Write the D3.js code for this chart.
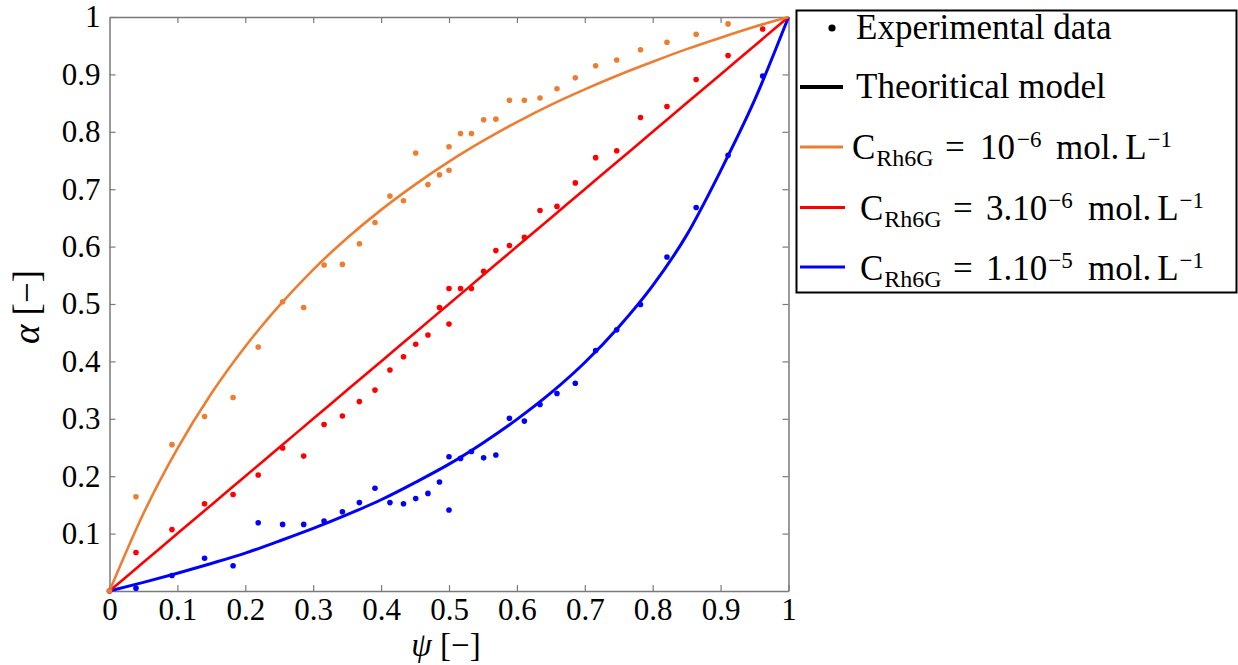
<!DOCTYPE html>
<html>
<head>
<meta charset="utf-8">
<script src="https://cdn.jsdelivr.net/npm/d3@7"></script>
<style>
  html, body { margin: 0; padding: 0; background: #fff; }
  svg { display: block; }
  text { font-family: "Liberation Serif", "DejaVu Serif", serif; fill: #000; }
</style>
</head>
<body>
<svg id="chart" width="1238" height="665"></svg>
<script>
// ---- Data ----
const psi = [0, 0.039, 0.092, 0.140, 0.182, 0.219, 0.255, 0.286, 0.316, 0.343, 0.368, 0.391, 0.413, 0.433, 0.451, 0.469, 0.486, 0.5, 0.5, 0.517, 0.533, 0.551, 0.569, 0.589, 0.611, 0.634, 0.659, 0.686, 0.716, 0.747, 0.782, 0.821, 0.864, 0.911, 0.962];
const expOrange = [0, 0.164, 0.255, 0.304, 0.337, 0.425, 0.504, 0.494, 0.568, 0.569, 0.605, 0.642, 0.688, 0.680, 0.763, 0.708, 0.725, 0.774, 0.733, 0.797, 0.797, 0.821, 0.822, 0.855, 0.855, 0.859, 0.875, 0.894, 0.915, 0.925, 0.943, 0.956, 0.970, 0.988, null];
const expRed = [0, 0.067, 0.107, 0.152, 0.168, 0.202, 0.249, 0.235, 0.290, 0.305, 0.330, 0.350, 0.385, 0.408, 0.430, 0.446, 0.494, 0.527, 0.465, 0.527, 0.527, 0.557, 0.593, 0.602, 0.616, 0.663, 0.670, 0.711, 0.755, 0.767, 0.825, 0.844, 0.891, 0.933, 0.979];
const expBlue = [0, 0.005, 0.027, 0.057, 0.044, 0.119, 0.116, 0.116, 0.122, 0.138, 0.154, 0.179, 0.154, 0.152, 0.161, 0.170, 0.190, 0.234, 0.141, 0.231, 0.243, 0.232, 0.237, 0.301, 0.296, 0.325, 0.344, 0.362, 0.419, 0.455, 0.499, 0.582, 0.668, 0.759, 0.897];

const modelPsi = [0, 0.05, 0.1, 0.15, 0.2, 0.25, 0.3, 0.35, 0.4, 0.45, 0.5, 0.55, 0.6, 0.65, 0.7, 0.75, 0.8, 0.85, 0.9, 0.95, 1];
const modelOrange = [0, 0.135, 0.248, 0.344, 0.426, 0.497, 0.560, 0.615, 0.664, 0.708, 0.748, 0.784, 0.817, 0.847, 0.874, 0.899, 0.922, 0.944, 0.964, 0.983, 1];
const modelRed = [0, 0.05, 0.1, 0.15, 0.2, 0.25, 0.3, 0.35, 0.4, 0.45, 0.5, 0.55, 0.6, 0.65, 0.7, 0.75, 0.8, 0.85, 0.9, 0.95, 1];
const modelBlue = [0, 0.015, 0.031, 0.048, 0.066, 0.087, 0.109, 0.133, 0.159, 0.189, 0.221, 0.258, 0.299, 0.345, 0.398, 0.460, 0.532, 0.620, 0.732, 0.855, 1];

const xTicks = [0, 0.1, 0.2, 0.3, 0.4, 0.5, 0.6, 0.7, 0.8, 0.9, 1];
const xTickLabels = ["0", "0.1", "0.2", "0.3", "0.4", "0.5", "0.6", "0.7", "0.8", "0.9", "1"];
const yTicks = [0.1, 0.2, 0.3, 0.4, 0.5, 0.6, 0.7, 0.8, 0.9, 1];
const yTickLabels = ["0.1", "0.2", "0.3", "0.4", "0.5", "0.6", "0.7", "0.8", "0.9", "1"];

const seriesNames = ["orange", "red", "blue"];
const seriesColors = ["#ED7D31", "#FF0000", "#0000FF"];
const concLabels = ["10", "3.10", "1.10"];
const concExps = ["\u22126", "\u22126", "\u22125"];

// ---- Layout ----
const svg = d3.select("#chart");
const x = d3.scaleLinear().domain([0, 1]).range([109.5, 788.5]);
const y = d3.scaleLinear().domain([0, 1]).range([591, 17]);
const axisColor = "#7a7a7a";

function styleAxis(g) {
  g.selectAll("path.domain").attr("stroke", axisColor).attr("stroke-width", 1.5);
  g.selectAll(".tick line").attr("stroke", axisColor).attr("stroke-width", 1.2);
  g.selectAll(".tick text").attr("font-family", "Liberation Serif").attr("font-size", 31).attr("fill", "#000");
}

svg.append("g").attr("transform", `translate(0,${y(0)})`)
  .call(d3.axisBottom(x).tickValues(xTicks).tickSizeInner(-6).tickSizeOuter(0).tickPadding(7)
    .tickFormat((d, i) => xTickLabels[i]))
  .call(styleAxis);
svg.append("g").attr("transform", `translate(${x(0)},0)`)
  .call(d3.axisLeft(y).tickValues(yTicks).tickSizeInner(-6).tickSizeOuter(0).tickPadding(9)
    .tickFormat((d, i) => yTickLabels[i]))
  .call(styleAxis);
svg.append("g").attr("transform", `translate(0,${y(1)})`)
  .call(d3.axisTop(x).tickValues(xTicks.slice(1, -1)).tickSizeInner(-6).tickSizeOuter(0).tickFormat(""))
  .call(styleAxis);
svg.append("g").attr("transform", `translate(${x(1)},0)`)
  .call(d3.axisRight(y).tickValues(yTicks.slice(0, -1)).tickSizeInner(-6).tickSizeOuter(0).tickFormat(""))
  .call(styleAxis);

// axis titles
const xt = svg.append("text").attr("x", 446).attr("y", 656).attr("text-anchor", "middle").attr("font-size", 33);
xt.append("tspan").attr("font-style", "italic").text("\u03C8");
xt.append("tspan").text(" [\u2212]");
const yt = svg.append("text").attr("transform", "translate(39,307) rotate(-90)").attr("text-anchor", "middle").attr("font-size", 37);
yt.append("tspan").attr("font-style", "italic").text("\u03B1");
yt.append("tspan").text(" [\u2212]");

// model lines
const models = [modelOrange, modelRed, modelBlue];
const line = d3.line().x(d => x(d[0])).y(d => y(d[1])).curve(d3.curveMonotoneX);
const drawOrder = [2, 1, 0];
drawOrder.forEach(i => {
  svg.append("path")
    .datum(modelPsi.map((p, j) => [p, models[i][j]]))
    .attr("fill", "none").attr("stroke", seriesColors[i])
    .attr("stroke-width", i === 2 ? 3 : 2.6)
    .attr("d", line);
});

// experimental points
const exps = [expOrange, expRed, expBlue];
drawOrder.forEach(i => {
  const pts = psi.map((p, j) => [p, exps[i][j]]).filter(d => d[1] !== null);
  svg.append("g").selectAll("circle").data(pts).join("circle")
    .attr("cx", d => x(d[0])).attr("cy", d => y(d[1])).attr("r", 2.8)
    .attr("fill", seriesColors[i]);
});

// ---- Legend ----
const lg = svg.append("g");
lg.append("rect").attr("x", 796.5).attr("y", 10.5).attr("width", 440).attr("height", 282)
  .attr("fill", "#fff").attr("stroke", "#000").attr("stroke-width", 2);
lg.append("circle").attr("cx", 832).attr("cy", 28).attr("r", 3.6).attr("fill", "#000");
lg.append("text").attr("x", 856).attr("y", 39).attr("font-size", 35).text("Experimental data");
lg.append("line").attr("x1", 800).attr("x2", 843).attr("y1", 87).attr("y2", 87)
  .attr("stroke", "#000").attr("stroke-width", 4);
lg.append("text").attr("x", 856).attr("y", 98).attr("font-size", 35).text("Theoritical model");

const rowY = [147, 207.5, 267];
const rowBase = [159, 220, 280];
const rowX0 = [852, 860, 860];
const offs = [
  [0, 20, 93, 128, 165, 204, 266, 0],
  [0, 20, 93, 126, 187, 228, 290, 0],
  [0, 20, 93, 126, 187, 228, 290, 0]
];
seriesNames.forEach((nm, i) => {
  lg.append("line").attr("x1", 800).attr("x2", i === 0 ? 843 : 845).attr("y1", rowY[i]).attr("y2", rowY[i])
    .attr("stroke", seriesColors[i]).attr("stroke-width", 3);
  const x0 = rowX0[i], b = rowBase[i];
  const pieces = [
    { t: "C", dy: 0, fs: 35 },
    { t: "Rh6G", dy: 7, fs: 24 },
    { t: "=", dy: 0, fs: 35 },
    { t: concLabels[i], dy: 0, fs: 35 },
    { t: concExps[i], dy: -12, fs: 23 },
    { t: "mol.", dy: 0, fs: 35 },
    { t: "L", dy: 0, fs: 35 },
    { t: "\u22121", dy: -12, fs: 23 }
  ];
  let prevEnd = -Infinity;
  pieces.forEach((p, k) => {
    const gap = (k === 6) ? 6 : 1;
    const px = Math.max(x0 + offs[i][k], prevEnd + gap);
    const el = lg.append("text").attr("x", px).attr("y", b + p.dy).attr("font-size", p.fs).text(p.t);
    prevEnd = px + el.node().getComputedTextLength();
  });
});
</script>
</body>
</html>
